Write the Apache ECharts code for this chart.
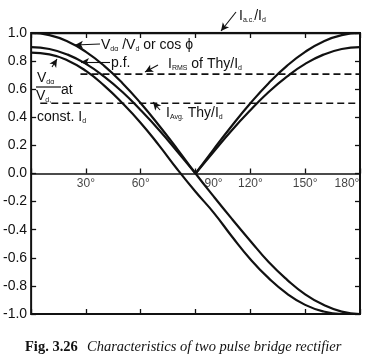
<!DOCTYPE html>
<html><head><meta charset="utf-8">
<script src="https://cdn.jsdelivr.net/npm/echarts@6/dist/echarts.min.js"></script>
<style>html,body{margin:0;padding:0;background:#fff}#c{width:373px;height:357px}</style>
</head><body><div id="c"></div>
<script>
// ---- data ----
const alpha = [0,10,20,30,40,50,60,70,80,90,100,110,120,130,140,150,160,170,180];
const cosVals = [1.00,0.985,0.94,0.866,0.766,0.643,0.50,0.342,0.174,0.0,-0.165,-0.325,-0.48,-0.63,-0.755,-0.86,-0.935,-0.983,-1.0];
const alphaLeft = [0,10,20,30,40,50,60,70,80,90];
const alphaRight = [90,100,110,120,130,140,150,160,170,180];
const absCosRight = [0,0.174,0.342,0.5,0.643,0.766,0.866,0.94,0.985,1.0];
const pfLeft = [0.90,0.886,0.846,0.78,0.69,0.58,0.45,0.31,0.157,0];
const pfRight = [0,0.157,0.31,0.45,0.58,0.69,0.78,0.846,0.886,0.90];
const alphaOverlap = [0,10,20,30,40,50,60,70,80,90,100,110,120,130,140,150,160,170];
const overlapVals = [0.86,0.848,0.805,0.73,0.625,0.50,0.36,0.20,0.03,-0.13,-0.28,-0.45,-0.61,-0.745,-0.855,-0.935,-0.982,-1.0];
const rmsLine = [[27,0.707],[180,0.707]];
const avgLine = [[5,0.5],[180,0.5]];
const iacLine = [[0,1.0],[180,1.0]];
const xTickValues = [30,60,90,120,150,180];
const xTickLabels = ['30°','60°','90°','120°','150°','180°'];

const zip = (xs, ys) => xs.map((x, i) => [x, ys[i]]);
const SANS = '"Liberation Sans", Arial, Helvetica, sans-serif';
const SERIF = '"Liberation Serif", "Times New Roman", serif';
const INK = '#111';

const subRich = {
  m: {fontSize: 14, fontFamily: SANS, fill: INK, lineHeight: 17, verticalAlign: 'bottom'},
  s: {fontSize: 7, fontFamily: SANS, fill: INK, lineHeight: 5, verticalAlign: 'bottom'}
};
function txt(x, y, text, extra) {
  return Object.assign({type: 'text', x: x, y: y, z: 100, silent: true,
    style: {text: text, rich: subRich, fill: INK, font: '14px ' + SANS, verticalAlign: 'middle'}}, extra || {});
}

const lineBase = {type: 'line', showSymbol: false, silent: true, smooth: true,
  xAxisIndex: 0, yAxisIndex: 0, lineStyle: {color: INK, width: 2.2}, itemStyle: {color: INK}};

const tickStyle = {inside: true, length: 5, lineStyle: {color: INK, width: 1.3}};

const chart = echarts.init(document.getElementById('c'), null, {renderer: 'canvas'});
chart.setOption({
  animation: false,
  backgroundColor: '#fff',
  grid: {left: 26, right: 13, top: 33, bottom: 43, show: true, borderColor: INK, borderWidth: 2, containLabel: false},
  xAxis: [
    {type: 'value', min: 0, max: 180, interval: 30, position: 'bottom',
     axisLine: {onZero: true, lineStyle: {color: INK, width: 1.5}},
     axisTick: tickStyle, splitLine: {show: false}, axisLabel: {show: false}},
    {type: 'value', min: 0, max: 180, interval: 30, position: 'top',
     axisLine: {show: false, onZero: false}, axisTick: tickStyle,
     axisLabel: {show: false}, splitLine: {show: false}},
    {type: 'value', min: 0, max: 180, interval: 30, position: 'bottom',
     axisLine: {show: false, onZero: false}, axisTick: tickStyle,
     axisLabel: {show: false}, splitLine: {show: false}}
  ],
  yAxis: [
    {type: 'value', min: -1, max: 1, interval: 0.2, position: 'left',
     axisLine: {show: false, onZero: false}, axisTick: Object.assign({show: true}, tickStyle),
     splitLine: {show: false},
     axisLabel: {margin: 4, color: INK, fontSize: 14, fontFamily: SANS,
       formatter: v => (Math.abs(v) < 1e-9 ? 0 : v).toFixed(1)}},
    {type: 'value', min: -1, max: 1, interval: 0.2, position: 'right',
     axisLine: {show: false, onZero: false}, axisTick: Object.assign({show: true}, tickStyle),
     splitLine: {show: false}, axisLabel: {show: false}}
  ],
  series: [
    Object.assign({}, lineBase, {name: 'cos', data: zip(alpha, cosVals),
      markLine: {silent: true, symbol: ['none', 'arrow'], symbolSize: [6, 8], animation: false,
        label: {show: false}, lineStyle: {type: 'solid', color: INK, width: 1.1},
        data: [
          [{x: 100, y: 44}, {x: 75, y: 45}],
          [{x: 110, y: 62}, {x: 81, y: 62}],
          [{x: 158, y: 65}, {x: 145, y: 72}],
          [{x: 160, y: 110}, {x: 153, y: 102}],
          [{x: 52, y: 67}, {x: 57, y: 59}],
          [{x: 236, y: 12, lineStyle: {curveness: -0.5}}, {x: 221, y: 31, lineStyle: {curveness: -0.5}}]
        ]}}),
    Object.assign({}, lineBase, {name: 'absRight', data: zip(alphaRight, absCosRight)}),
    Object.assign({}, lineBase, {name: 'pfLeft', data: zip(alphaLeft, pfLeft)}),
    Object.assign({}, lineBase, {name: 'pfRight', data: zip(alphaRight, pfRight)}),
    Object.assign({}, lineBase, {name: 'overlap', data: zip(alphaOverlap, overlapVals)}),
    Object.assign({}, lineBase, {name: 'rms', smooth: false, data: rmsLine, lineStyle: {color: INK, width: 1.6, type: [7, 4]}}),
    Object.assign({}, lineBase, {name: 'avg', smooth: false, data: avgLine, lineStyle: {color: INK, width: 1.6, type: [7, 4]}}),
    Object.assign({}, lineBase, {name: 'iac', smooth: false, data: iacLine, lineStyle: {color: INK, width: 2.5}}),
    {type: 'scatter', name: 'xlabels', silent: true, symbolSize: 0, xAxisIndex: 0, yAxisIndex: 0,
     data: xTickValues.map((v, i) => ({value: [v, 0], label: {
       offset: v === 90 ? [18, 0] : (v === 180 ? [-13, 0] : [0, 0])}})),
     label: {show: true, position: 'bottom', distance: 4, color: INK, fontSize: 12, fontFamily: SANS,
       formatter: p => xTickLabels[p.dataIndex]}}
  ],
  graphic: [
    txt(101, 44, '{m|V}{s|dα}{m| /V}{s|d}{m| or cos ϕ}'),
    txt(111, 62, '{m|p.f.}'),
    txt(168, 63, '{m|I}{s|RMS}{m| of Thy/I}{s|d}'),
    txt(166, 112, '{m|I}{s|Avg.}{m| Thy/I}{s|d}'),
    txt(239, 15, '{m|I}{s|a.c.}{m|/I}{s|d}'),
    txt(37, 77, '{m|V}{s|dα}'),
    txt(36, 95, '{m|V}{s|d,}'),
    {type: 'line', silent: true, z: 100, shape: {x1: 36, y1: 87, x2: 61, y2: 87}, style: {stroke: INK, lineWidth: 1.2}},
    txt(61, 89, '{m|at}'),
    txt(37, 116, '{m|const. I}{s|d}'),
    {type: 'text', x: 25, y: 347, silent: true,
     style: {text: 'Fig. 3.26', font: 'bold 14.5px ' + SERIF, fill: INK, verticalAlign: 'middle'}},
    {type: 'text', x: 87, y: 347, silent: true,
     style: {text: 'Characteristics of two pulse bridge rectifier', font: 'italic 14.5px ' + SERIF, fill: INK, verticalAlign: 'middle'}}
  ]
});
</script></body></html>
